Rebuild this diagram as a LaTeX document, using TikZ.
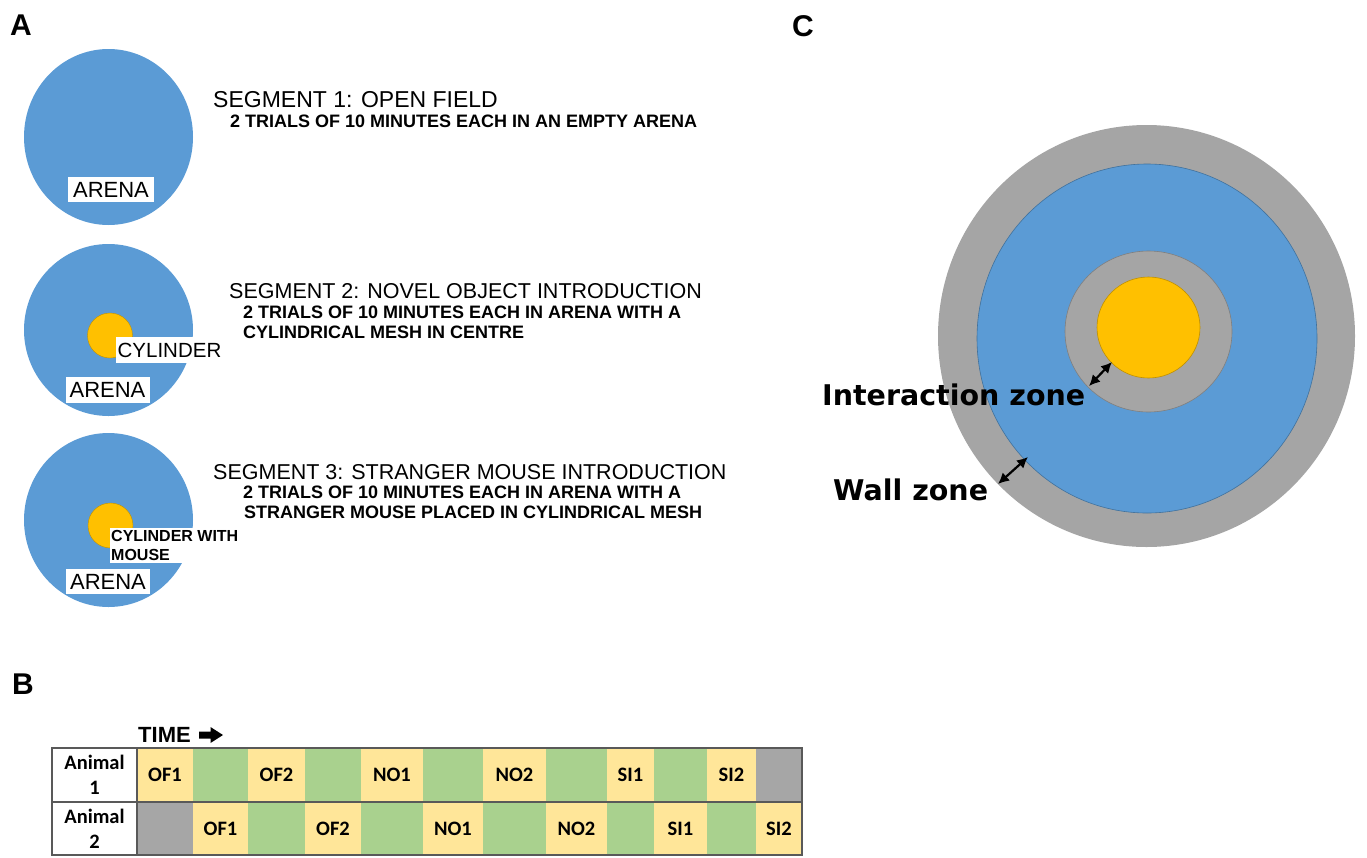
\documentclass[tikz,border=0pt]{standalone}
\usepackage{fontspec}
\setmainfont{Liberation Sans}
\newfontfamily\calfont{Carlito}
\newfontfamily\djfont{DejaVu Sans}
\usetikzlibrary{arrows.meta}
\definecolor{arenablue}{HTML}{5B9BD5}
\definecolor{bluedge}{HTML}{41719C}
\definecolor{cylyellow}{HTML}{FFC000}
\definecolor{yeledge}{HTML}{BF9000}
\definecolor{zonegray}{HTML}{A5A5A5}
\definecolor{grayedge}{HTML}{7F7F7F}
\definecolor{cellyellow}{HTML}{FFE699}
\definecolor{cellgreen}{HTML}{A9D18E}
\definecolor{cellgray}{HTML}{A6A6A6}
\definecolor{tableline}{HTML}{595959}
\newcommand\myfs[1]{\fontsize{#1}{#1}\selectfont}
\begin{document}
\begin{tikzpicture}[x=1pt,y=-1pt,
  panel/.style={anchor=base west, inner sep=0, font=\bfseries\myfs{30}},
  segtitle/.style={anchor=base west, inner sep=0, font=\myfs{21.5}},
  segdesc/.style={anchor=base west, inner sep=0, font=\bfseries\myfs{18}},
  lab/.style={fill=white, inner sep=0, font=\myfs{22}},
  cellbox/.style={inner sep=0, minimum height=53.5, font=\calfont\bfseries\myfs{20.5}},
  zonetext/.style={anchor=base west, inner sep=0, font=\djfont\bfseries\myfs{28.5}},
  dbl/.style={{Latex[length=11pt,width=11pt]}-{Latex[length=11pt,width=11pt]}, line width=2.2pt}
]
\useasboundingbox (0,0) rectangle (1367,857);

% ---------- panel letters
\node[panel] (lA) at (10,35) {A};
\node[panel] (lB) at (12,694) {B};
\node[panel] (lC) at (792,36) {C};

% ---------- panel A arenas
\fill[arenablue] (108.5,137) ellipse [x radius=84.5pt, y radius=88pt];
\fill[arenablue] (108.5,330) ellipse [x radius=84.5pt, y radius=86pt];
\fill[arenablue] (108.5,520) ellipse [x radius=84.5pt, y radius=87pt];
\filldraw[fill=cylyellow, draw=yeledge, line width=0.4pt] (110,335.5) circle [radius=22.5pt];
\filldraw[fill=cylyellow, draw=yeledge, line width=0.4pt] (110.5,525.5) circle [radius=22.5pt];

\node[lab, minimum width=86, minimum height=25] (ar1) at (111,189.5) {ARENA};
\node[lab, minimum width=84, minimum height=26] (ar2) at (107.5,390) {ARENA};
\node[lab, minimum width=107, minimum height=26, font=\myfs{20.5}] (cyl2) at (169.5,350) {CYLINDER};
\node[lab, minimum width=84, minimum height=25] (ar3) at (108,581.5) {ARENA};
\node[fill=white, anchor=north west, inner xsep=1pt, inner ysep=2pt, align=left,
      font=\bfseries\fontsize{16}{19}\selectfont] (cyl3) at (110,528) {CYLINDER WITH\\MOUSE};

% ---------- panel A texts
\node[segtitle, font=\myfs{23}] (t1) at (213,107) {SEGMENT 1: OPEN FIELD};
\node[segdesc] (d1) at (230,127) {2 TRIALS OF 10 MINUTES EACH IN AN EMPTY ARENA};

\node[segtitle] (t2) at (229,298) {SEGMENT 2: NOVEL OBJECT INTRODUCTION};
\node[segdesc] (d2a) at (243,318) {2 TRIALS OF 10 MINUTES EACH IN ARENA WITH A};
\node[segdesc] (d2b) at (243,338) {CYLINDRICAL MESH IN CENTRE};

\node[segtitle] (t3) at (213,479) {SEGMENT 3: STRANGER MOUSE INTRODUCTION};
\node[segdesc] (d3a) at (243,498) {2 TRIALS OF 10 MINUTES EACH IN ARENA WITH A};
\node[segdesc] (d3b) at (244,518) {STRANGER MOUSE PLACED IN CYLINDRICAL MESH};

% ---------- panel B
\node[anchor=base west, inner sep=0, font=\bfseries\myfs{22}] (time) at (138,742) {TIME};
\fill (199,731.5) -- (210.5,731.5) -- (210.5,727) -- (223,735) -- (210.5,743) -- (210.5,738.5) -- (199,738.5) -- cycle;

\node[fill=white, inner sep=0, minimum width=85, minimum height=54, align=center,
      font=\calfont\bfseries\fontsize{20.5}{25}\selectfont] (an1) at (94.5,775) {Animal\\1};
\node[fill=white, inner sep=0, minimum width=85, minimum height=53, align=center,
      font=\calfont\bfseries\fontsize{20.5}{25}\selectfont] (an2) at (94.5,828.5) {Animal\\2};

\foreach \xa/\xb/\c/\t [count=\i] in {137/193/cellyellow/OF1, 193/248/cellgreen/, 248/305/cellyellow/OF2,
   305/361/cellgreen/, 361/423/cellyellow/NO1, 423/483/cellgreen/, 483/546/cellyellow/NO2,
   546/607/cellgreen/, 607/654/cellyellow/SI1, 654/707/cellgreen/, 707/756/cellyellow/SI2, 756/802/cellgray/} {
  \pgfmathsetmacro\w{\xb-\xa}
  \pgfmathsetmacro\xm{(\xa+\xb)/2}
  \node[cellbox, fill=\c, minimum width=\w pt] (ra\i) at (\xm,775) {\t};
}
\foreach \xa/\xb/\c/\t [count=\i] in {137/193/cellgray/, 193/248/cellyellow/OF1, 248/305/cellgreen/,
   305/361/cellyellow/OF2, 361/423/cellgreen/, 423/483/cellyellow/NO1, 483/546/cellgreen/,
   546/607/cellyellow/NO2, 607/654/cellgreen/, 654/707/cellyellow/SI1, 707/756/cellgreen/, 756/802/cellyellow/SI2} {
  \pgfmathsetmacro\w{\xb-\xa}
  \pgfmathsetmacro\xm{(\xa+\xb)/2}
  \node[cellbox, fill=\c, minimum width=\w pt] (rb\i) at (\xm,828.5) {\t};
}
\draw[tableline, line width=1.4pt] (52,748) rectangle (802,855);
\draw[tableline, line width=1.4pt] (52,802) -- (802,802);
\draw[tableline, line width=1.4pt] (137,748) -- (137,855);

% ---------- panel C
\fill[zonegray] (1146.5,336) ellipse [x radius=208.5pt, y radius=211pt];
\filldraw[fill=arenablue, draw=bluedge, line width=0.6pt] (1147,338.5) ellipse [x radius=170pt, y radius=174.5pt];
\filldraw[fill=zonegray, draw=grayedge, line width=0.6pt] (1148.5,331.5) ellipse [x radius=83.5pt, y radius=80.5pt];
\filldraw[fill=cylyellow, draw=yeledge, line width=0.6pt] (1148.5,327.5) ellipse [x radius=51.5pt, y radius=50.5pt];

\coordinate (ia1) at (1089,386);
\coordinate (ia2) at (1112,362);
\coordinate (wa1) at (998,484);
\coordinate (wa2) at (1028,457);
\draw[dbl] (ia1) -- (ia2);
\draw[dbl] (wa1) -- (wa2);

\node[zonetext] (iz) at (822,405) {Interaction zone};
\node[zonetext] (wz) at (833,500) {Wall zone};
\end{tikzpicture}
\end{document}
